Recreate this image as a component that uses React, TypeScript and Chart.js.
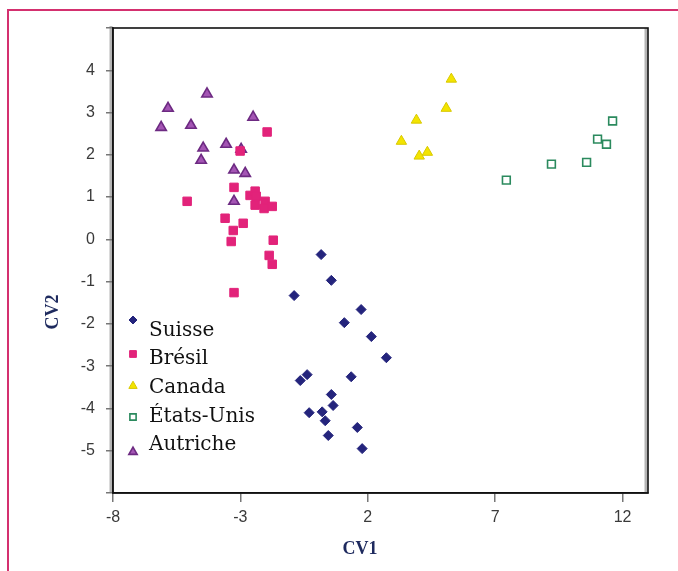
import React, { useEffect, useRef } from "react";
import { Chart, registerables } from "chart.js";
import { drawPoint } from "chart.js/helpers";

Chart.register(...registerables);

const seriesNames = ["Suisse", "Brésil", "Canada", "États-Unis", "Autriche"];

const suisseX = [0.17, 0.57, -0.89, 1.74, 1.08, 2.14, 2.73, -0.38, -0.65, 1.35, 0.57, 0.64, -0.3, 0.21, 0.33, 0.45, 1.59, 1.78];
const suisseY = [-0.36, -0.97, -1.33, -1.66, -1.97, -2.3, -2.8, -3.2, -3.34, -3.25, -3.67, -3.93, -4.1, -4.08, -4.29, -4.64, -4.45, -4.95];

const bresilX = [-1.95, -3.01, -5.09, -3.25, -2.62, -2.42, -2.38, -2.42, -2.03, -2.07, -1.75, -3.6, -3.28, -2.89, -3.36, -1.71, -1.87, -1.75, -3.25];
const bresilY = [2.54, 2.09, 0.9, 1.23, 1.04, 1.14, 1.02, 0.81, 0.9, 0.73, 0.78, 0.5, 0.21, 0.38, -0.05, -0.02, -0.38, -0.59, -1.26];

const canadaX = [5.28, 5.08, 3.91, 3.32, 4.34, 4.02];
const canadaY = [3.79, 3.1, 2.82, 2.32, 2.06, 1.97];

const usaX = [11.61, 11.02, 11.37, 10.59, 9.21, 7.44];
const usaY = [2.8, 2.37, 2.25, 1.82, 1.78, 1.4];

const autricheX = [-4.31, -5.84, -6.11, -4.94, -2.5, -4.46, -4.54, -3.56, -2.97, -3.25, -2.81, -3.25];
const autricheY = [3.44, 3.1, 2.65, 2.7, 2.89, 2.16, 1.87, 2.25, 2.13, 1.64, 1.56, 0.9];

const xTickValues = [-8, -3, 2, 7, 12];
const yTickValues = [-6, -5, -4, -3, -2, -1, 0, 1, 2, 3, 4, 5];
const xTitle = "CV1";
const yTitle = "CV2";

const zip = (xs: number[], ys: number[]) => xs.map((x, i) => ({ x, y: ys[i] }));

const styles = [
  { pointStyle: "rectRot", radius: 5, bg: "#24247c", border: "#24247c", bw: 1 },
  { pointStyle: "rect", radius: 6, bg: "#e2237a", border: "#e2237a", bw: 1 },
  { pointStyle: "triangle", radius: 6, bg: "#f3e400", border: "#d8c800", bw: 1 },
  { pointStyle: "rect", radius: 5.5, bg: "#ffffff", border: "#2b8a5e", bw: 1.6 },
  { pointStyle: "triangle", radius: 6, bg: "#a455b4", border: "#6d2a82", bw: 1.6 },
];

export default function App() {
  const ref = useRef<HTMLCanvasElement | null>(null);

  useEffect(() => {
    if (!ref.current) return;
    const data = [
      zip(suisseX, suisseY),
      zip(bresilX, bresilY),
      zip(canadaX, canadaY),
      zip(usaX, usaY),
      zip(autricheX, autricheY),
    ];

    const boxPlugin = {
      id: "boxPlugin",
      afterDatasetsDraw(chart: any) {
        const { ctx, chartArea } = chart;
        const { left, right, top, bottom } = chartArea;
        ctx.save();
        ctx.strokeStyle = "rgba(120,120,120,0.55)";
        ctx.lineWidth = 3;
        ctx.beginPath();
        ctx.moveTo(left - 2, top - 2);
        ctx.lineTo(left - 2, bottom);
        ctx.moveTo(right - 2, top);
        ctx.lineTo(right - 2, bottom);
        ctx.stroke();
        ctx.strokeStyle = "#111";
        ctx.lineWidth = 1.6;
        ctx.strokeRect(left, top, right - left, bottom - top);
        ctx.restore();

        // Legend
        ctx.save();
        const mx = 133;
        const markerYs = [320, 354, 386, 417, 452];
        const textYs = [331, 359, 388, 417, 445];
        seriesNames.forEach((name, i) => {
          const s = styles[i];
          ctx.fillStyle = s.bg;
          ctx.strokeStyle = s.border;
          ctx.lineWidth = s.bw;
          drawPoint(ctx, { pointStyle: s.pointStyle as any, radius: s.radius * 0.8, rotation: 0, borderWidth: s.bw }, mx, markerYs[i]);
          ctx.fillStyle = "#111";
          ctx.font = "20px 'DejaVu Serif'";
          ctx.textBaseline = "middle";
          ctx.textAlign = "left";
          ctx.fillText(name, 149, textYs[i]);
        });
        ctx.restore();

        // Axis titles
        ctx.save();
        ctx.fillStyle = "#1e2a5e";
        ctx.font = "bold 18px 'Liberation Serif'";
        ctx.textAlign = "center";
        ctx.textBaseline = "middle";
        ctx.fillText(xTitle, 360, 549);
        ctx.translate(53, 312);
        ctx.rotate(-Math.PI / 2);
        ctx.fillText(yTitle, 0, 0);
        ctx.restore();
      },
    };

    const chart = new Chart(ref.current, {
      type: "scatter",
      data: {
        datasets: data.map((d, i) => ({
          label: seriesNames[i],
          data: d,
          pointStyle: styles[i].pointStyle as any,
          pointRadius: styles[i].radius,
          backgroundColor: styles[i].bg,
          borderColor: styles[i].border,
          borderWidth: styles[i].bw,
        })),
      },
      options: {
        animation: false,
        responsive: false,
        maintainAspectRatio: false,
        layout: { padding: { left: 0, top: 28, right: 30, bottom: 0 } },
        plugins: { legend: { display: false }, tooltip: { enabled: false } },
        scales: {
          x: {
            type: "linear",
            min: -8,
            max: 13,
            afterBuildTicks: (s: any) => {
              s.ticks = xTickValues.map((v) => ({ value: v }));
            },
            afterFit: (s: any) => {
              s.height = 78;
            },
            grid: { drawOnChartArea: false, drawTicks: true, tickLength: 9, color: "#777", lineWidth: 1.5 },
            border: { display: true, color: "#111", width: 1.6 },
            ticks: {
              padding: 6,
              color: "#3a3a3a",
              font: { family: "'Liberation Sans'", size: 16 },
              maxRotation: 0,
              autoSkip: false,
            },
            title: { display: false },
          },
          y: {
            type: "linear",
            min: -6,
            max: 5,
            afterBuildTicks: (s: any) => {
              s.ticks = yTickValues.map((v) => ({ value: v }));
            },
            afterFit: (s: any) => {
              s.width = 113;
            },
            grid: { drawOnChartArea: false, drawTicks: true, tickLength: 7, color: "#777", lineWidth: 1.5 },
            border: { display: true, color: "#111", width: 1.6 },
            ticks: {
              padding: 11,
              color: "#3a3a3a",
              font: { family: "'Liberation Sans'", size: 16 },
              autoSkip: false,
              callback: (v: any) => (v === -6 || v === 5 ? "" : String(v)),
            },
            title: { display: false },
          },
        },
      },
      plugins: [boxPlugin],
    });
    return () => chart.destroy();
  }, []);

  return (
    <div style={{ position: "fixed", left: 0, top: 0, width: 678, height: 571, background: "#fff" }}>
      <div
        style={{
          position: "absolute",
          left: 7,
          top: 9,
          width: 671,
          height: 562,
          borderTop: "2px solid #d4306f",
          borderLeft: "2px solid #d4306f",
          boxSizing: "border-box",
        }}
      />
      <canvas ref={ref} width={678} height={571} style={{ position: "absolute", left: 0, top: 0, width: 678, height: 571 }} />
    </div>
  );
}
